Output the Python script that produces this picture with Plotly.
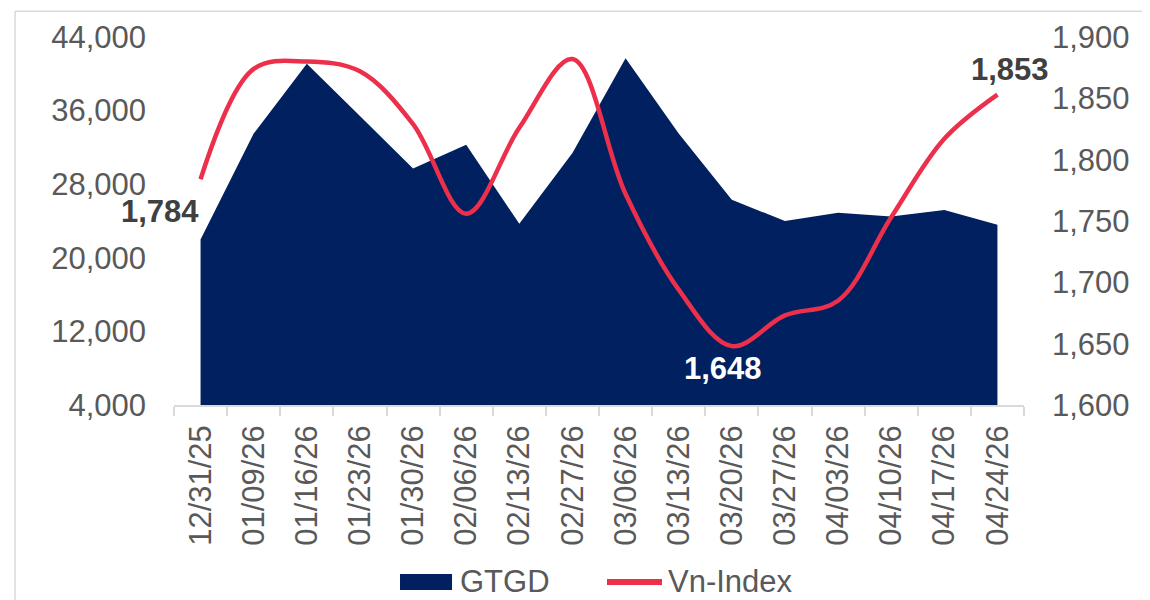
import plotly.graph_objects as go

dates = ["12/31/25", "01/09/26", "01/16/26", "01/23/26", "01/30/26", "02/06/26",
         "02/13/26", "02/27/26", "03/06/26", "03/13/26", "03/20/26", "03/27/26",
         "04/03/26", "04/10/26", "04/17/26", "04/24/26"]
gtgd = [22000, 33500, 41100, 35400, 29700, 32300, 23700, 31400, 41700, 33500,
        26300, 24000, 24900, 24500, 25200, 23600]
vnindex = [1784, 1874, 1880, 1872, 1829, 1756, 1826, 1882, 1772, 1694,
           1648, 1673, 1685, 1753, 1817, 1853]

NAVY = "#002060"
RED = "#EC2F4B"
GREY = "#595959"
FONT = "Liberation Sans"
FS = 31

fig = go.Figure()
fig.add_trace(go.Scatter(x=dates, y=gtgd, name="GTGD", mode="none",
                         fill="tozeroy", fillcolor=NAVY, line=dict(shape="linear"),
                         yaxis="y", hoverinfo="x+y"))
fig.add_trace(go.Scatter(x=dates, y=vnindex, name="Vn-Index", mode="lines",
                         line=dict(color=RED, width=4.5, shape="spline", smoothing=1.0),
                         yaxis="y2"))

# data labels
label_specs = [(0, -41, -32, "#404040"), (10, -9, -22, "white"), (15, 13, 25, "#404040")]
for idx, xs, ys, col in label_specs:
    fig.add_annotation(x=dates[idx], y=vnindex[idx], xref="x", yref="y2",
                       text=f"<b>{vnindex[idx]:,}</b>", showarrow=False,
                       xshift=xs, yshift=ys,
                       font=dict(family=FONT, size=FS, color=col))

# custom legend
fig.add_shape(type="rect", xref="paper", yref="paper", x0=0.2659, x1=0.3271,
              y0=-0.5027, y1=-0.4595, fillcolor=NAVY, line=dict(width=0))
fig.add_annotation(xref="paper", yref="paper", x=0.3341, y=-0.4784, xanchor="left",
                   yanchor="middle", text="GTGD", showarrow=False,
                   font=dict(family=FONT, size=FS, color=GREY))
fig.add_shape(type="line", xref="paper", yref="paper", x0=0.5094, x1=0.5741,
              y0=-0.4811, y1=-0.4811, line=dict(color=RED, width=6))
fig.add_annotation(xref="paper", yref="paper", x=0.5788, y=-0.4784, xanchor="left",
                   yanchor="middle", text="Vn-Index", showarrow=False,
                   font=dict(family=FONT, size=FS, color=GREY))

# chart border (top and left edges visible in the frame)
fig.add_shape(type="line", xref="paper", yref="paper", x0=-0.187, x1=1.25,
              y0=1.0703, y1=1.0703, line=dict(color="#D9D9D9", width=1.5), layer="below")
fig.add_shape(type="line", xref="paper", yref="paper", x0=-0.187, x1=-0.187,
              y0=-0.6, y1=1.0703, line=dict(color="#D9D9D9", width=1.5), layer="below")

fig.update_layout(
    width=1142, height=592,
    margin=dict(l=166, r=126, t=27, b=195),
    paper_bgcolor="white", plot_bgcolor="white",
    showlegend=False,
    font=dict(family=FONT, size=FS, color=GREY),
    xaxis=dict(type="category", range=[-0.5, len(dates) - 0.5], tickangle=-90,
               showgrid=False, showline=True, linecolor="#D9D9D9", linewidth=1.5,
               ticks="outside", ticklen=9, tickcolor="#D9D9D9", tickwidth=1.5,
               tickson="boundaries", ticklabelstandoff=6,
               tickfont=dict(family=FONT, size=FS, color=GREY)),
    yaxis=dict(range=[4000, 44000], dtick=8000, tick0=4000, tickformat=",.0f",
               showgrid=False, zeroline=False, showline=False,
               ticklabelstandoff=27,
               tickfont=dict(family=FONT, size=FS, color=GREY)),
    yaxis2=dict(range=[1600, 1900], dtick=50, tick0=1600, tickformat=",.0f",
                overlaying="y", side="right", showgrid=False, zeroline=False,
                showline=False, ticklabelstandoff=27,
                tickfont=dict(family=FONT, size=FS, color=GREY)),
)

fig.write_html("out.html",
               post_script="document.documentElement.style.overflow='hidden';"
                           "document.body.style.overflow='hidden';")
